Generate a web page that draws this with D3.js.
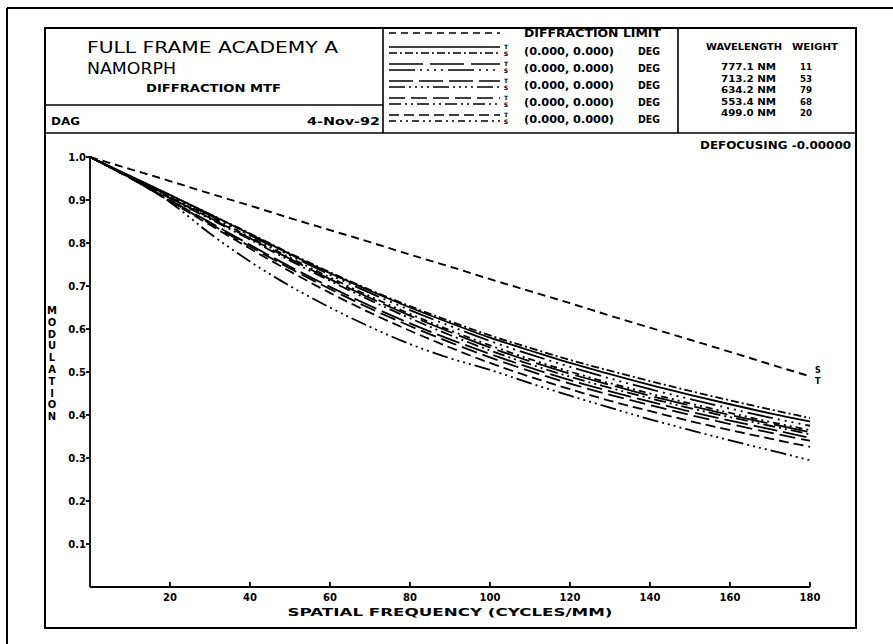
<!DOCTYPE html>
<html><head><meta charset="utf-8">
<script src="https://cdn.jsdelivr.net/npm/d3@7"></script>
<style>body{margin:0;background:#fff}svg{display:block}</style>
</head><body><svg id="c" width="893" height="644"></svg>
<script>
// ---------------- data ----------------
const freqs = [0,10,20,30,40,50,60,70,80,90,100,110,120,130,140,150,160,170,180];
const diffLimit = [1.000,0.972,0.944,0.915,0.887,0.858,0.830,0.802,0.773,0.745,0.716,0.688,0.660,0.631,0.603,0.575,0.547,0.518,0.490];
const field1T = [1.000,0.956,0.912,0.867,0.821,0.774,0.730,0.689,0.650,0.614,0.580,0.550,0.521,0.495,0.470,0.447,0.425,0.404,0.385];
const field1S = [1.000,0.955,0.911,0.867,0.822,0.776,0.732,0.691,0.653,0.618,0.585,0.556,0.528,0.503,0.479,0.456,0.434,0.413,0.393];
const field2T = [1.000,0.953,0.905,0.858,0.811,0.763,0.716,0.672,0.631,0.593,0.557,0.525,0.496,0.470,0.445,0.422,0.400,0.380,0.360];
const field2S = [1.000,0.955,0.909,0.864,0.818,0.771,0.726,0.684,0.644,0.607,0.572,0.541,0.512,0.485,0.460,0.437,0.415,0.394,0.375];
const field3T = [1.000,0.952,0.900,0.848,0.796,0.745,0.698,0.654,0.613,0.576,0.542,0.510,0.481,0.455,0.431,0.408,0.387,0.367,0.347];
const field3S = [1.000,0.953,0.895,0.822,0.757,0.700,0.650,0.605,0.565,0.532,0.505,0.474,0.445,0.417,0.390,0.365,0.341,0.318,0.295];
const field4T = [1.000,0.951,0.898,0.845,0.792,0.741,0.693,0.648,0.607,0.569,0.534,0.502,0.473,0.447,0.423,0.400,0.379,0.359,0.340];
const field4S = [1.000,0.953,0.904,0.856,0.808,0.759,0.712,0.667,0.625,0.586,0.550,0.518,0.489,0.463,0.439,0.416,0.395,0.375,0.355];
const field5T = [1.000,0.951,0.897,0.842,0.787,0.734,0.684,0.638,0.596,0.557,0.521,0.489,0.460,0.433,0.409,0.386,0.365,0.345,0.326];
const field5S = [1.000,0.954,0.907,0.861,0.814,0.766,0.720,0.676,0.635,0.597,0.562,0.530,0.501,0.474,0.450,0.427,0.405,0.384,0.365];
const fieldLabels = ["(0.000, 0.000)","(0.000, 0.000)","(0.000, 0.000)","(0.000, 0.000)","(0.000, 0.000)"];
const wavelengths = ["777.1","713.2","634.2","553.4","499.0"];
const weights = ["11","53","79","68","20"];
const xTicks = [20,40,60,80,100,120,140,160,180];
const yTicks = [0.1,0.2,0.3,0.4,0.5,0.6,0.7,0.8,0.9,1.0];
const yLabel = "MODULATION";

// line styles (T, S) per field
const fieldStyles = [
  ["none","8,3,2,3"],
  ["34,7","26,5,2,5,2,5,2,5,2,5"],
  ["24,6","16,4,2,4,2,4,2,4,2,4"],
  ["16,6","12,4,2,4,2,4"],
  ["10,5","7,4,2,4,2,4"]
];
const fieldData = [[field1T,field1S],[field2T,field2S],[field3T,field3S],[field4T,field4S],[field5T,field5S]];

// ---------------- drawing ----------------
const svg = d3.select("#c");
const F = "'DejaVu Sans', sans-serif";
const x = d3.scaleLinear().domain([0,180]).range([90,810]);
const y = d3.scaleLinear().domain([0,1]).range([587,157]);

// outer scan frame (top and left only)
svg.append("line").attr("x1",7).attr("y1",8).attr("x2",893).attr("y2",8).attr("stroke","#000").attr("stroke-width",2);
svg.append("line").attr("x1",7).attr("y1",8).attr("x2",7).attr("y2",644).attr("stroke","#000").attr("stroke-width",2);

// inner frame
svg.append("rect").attr("x",45).attr("y",28).attr("width",811).attr("height",600)
  .attr("fill","none").attr("stroke","#000").attr("stroke-width",2);

// header boxes
const hdr = svg.append("g").attr("stroke","#000").attr("stroke-width",1.6).attr("fill","none");
hdr.append("line").attr("x1",45).attr("y1",133).attr("x2",856).attr("y2",133);
hdr.append("line").attr("x1",383).attr("y1",28).attr("x2",383).attr("y2",133);
hdr.append("line").attr("x1",678).attr("y1",28).attr("x2",678).attr("y2",133);
hdr.append("line").attr("x1",45).attr("y1",105).attr("x2",383).attr("y2",105);

function txt(s, x0, y0, opts={}) {
  const t = svg.append("text").attr("x",x0).attr("y",y0).text(s)
    .attr("font-family",F).attr("font-size",opts.size||10).attr("font-weight",opts.weight||"bold")
    .attr("fill","#000").attr("text-anchor",opts.anchor||"start");
  if (opts.len) t.attr("textLength",opts.len).attr("lengthAdjust","spacingAndGlyphs");
  return t;
}
// title block
txt("FULL FRAME ACADEMY A",87,53,{size:16,weight:"normal",len:251});
txt("NAMORPH",87,74,{size:16,weight:"normal",len:89});
txt("DIFFRACTION MTF",146,92,{size:10,len:135});
txt("DAG",51,125,{size:10,len:29});
txt("4-Nov-92",380,125,{size:10,len:73,anchor:"end"});

// legend block
const lx0 = 389, lx1 = 500;
svg.append("line").attr("x1",lx0).attr("x2",lx1).attr("y1",33).attr("y2",33)
  .attr("stroke","#000").attr("stroke-width",1.6).attr("stroke-dasharray","7,5");
txt("DIFFRACTION LIMIT",524,37,{size:10,len:137});
fieldLabels.forEach((lab,i)=>{
  const cy = 50 + i*17;
  [0,1].forEach(k=>{
    svg.append("line").attr("x1",lx0).attr("x2",lx1).attr("y1",cy-3+k*6).attr("y2",cy-3+k*6)
      .attr("stroke","#000").attr("stroke-width",1.6)
      .attr("stroke-dasharray",fieldStyles[i][k]);
  });
  txt("T",506,cy-1,{size:6,anchor:"middle"});
  txt("S",506,cy+6,{size:6,anchor:"middle"});
  txt(lab,524,cy+5,{size:10,len:90});
  txt("DEG",638,cy+5,{size:10,len:22});
});

// wavelength block
txt("WAVELENGTH",706,50,{size:9,len:76});
txt("WEIGHT",792,50,{size:9,len:46});
wavelengths.forEach((w,i)=>{
  const yy = 70 + i*11.6;
  txt(w+" NM",776,yy,{size:9,len:55,anchor:"end"});
  txt(weights[i],812,yy,{size:9,anchor:"end",len:12});
});

txt("DEFOCUSING -0.00000",851,149,{size:10,len:151,anchor:"end"});

// axes
const ax = svg.append("g").attr("stroke","#000").attr("stroke-width",1.8);
ax.append("line").attr("x1",x(0)).attr("x2",x(0)).attr("y1",y(0)).attr("y2",y(1));
ax.append("line").attr("x1",x(0)).attr("x2",x(180)).attr("y1",y(0)).attr("y2",y(0));
yTicks.forEach(v=>{
  ax.append("line").attr("x1",x(0)-4).attr("x2",x(0)).attr("y1",y(v)).attr("y2",y(v));
  txt(v.toFixed(1),86,y(v)+4,{size:10,anchor:"end"});
});
xTicks.forEach(v=>{
  ax.append("line").attr("x1",x(v)).attr("x2",x(v)).attr("y1",y(0)).attr("y2",y(0)-5);
  txt(String(v),x(v),601,{size:10,anchor:"middle"});
});
txt("SPATIAL FREQUENCY (CYCLES/MM)",450,616,{size:10,len:325,anchor:"middle"});
yLabel.split("").forEach((c,i)=>{
  txt(c,52,314+i*11.8,{size:10,anchor:"middle"});
});

// curves
const line = d3.line().x((d,i)=>x(freqs[i])).y(d=>y(d)).curve(d3.curveMonotoneX);
svg.append("path").attr("d",line(diffLimit)).attr("fill","none").attr("stroke","#000")
  .attr("stroke-width",1.9).attr("stroke-dasharray","8,5");
fieldData.forEach((pair,i)=>{
  pair.forEach((arr,k)=>{
    svg.append("path").attr("d",line(arr)).attr("fill","none").attr("stroke","#000")
      .attr("stroke-width",1.8).attr("stroke-dasharray",fieldStyles[i][k]);
  });
});
txt("S",815,y(diffLimit[diffLimit.length-1])-3,{size:8});
txt("T",815,y(diffLimit[diffLimit.length-1])+8,{size:8});
</script></body></html>
